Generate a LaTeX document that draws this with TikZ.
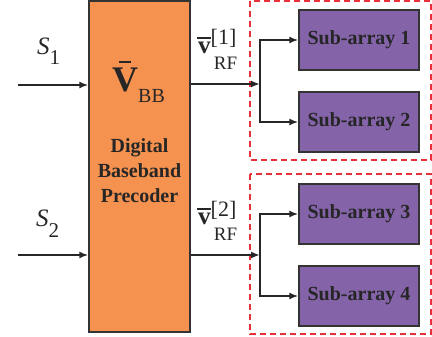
\documentclass[tikz,border=0pt]{standalone}
\usepackage{amsmath}
\usepackage{fontspec}
\setmainfont{Liberation Serif}
\usetikzlibrary{calc,arrows.meta,positioning}
\definecolor{precolor}{HTML}{F6924F}
\definecolor{subcolor}{HTML}{8463A9}
\definecolor{dashred}{HTML}{E8303A}
\definecolor{edgegray}{HTML}{333333}
% bar over a symbol: width, raise, symbol
\newcommand{\topbar}[3]{\ooalign{#3\cr\hidewidth\raisebox{#2}{\rule{#1}{1.8pt}}\hidewidth\cr}}
\newcommand{\fs}[1]{\fontsize{#1}{#1}\selectfont}

\begin{document}
\begin{tikzpicture}[x=1pt,y=-1pt,
    sig/.style = {-{Latex[length=9pt,width=7pt]},line width=2.1pt,black!85},
    subbox/.style = {draw=edgegray,line width=1.3pt,fill=subcolor,minimum width=120pt,minimum height=60pt,font=\fs{20}\bfseries,text=black!85},
    groupbox/.style = {draw=dashred,line width=1.3pt,dash pattern=on 6pt off 4pt},
    lbl/.style = {anchor=base west,inner sep=0pt,text=black!85}]
    \useasboundingbox(0,0)rectangle(432,337);
    \node[draw=edgegray,line width=1.3pt,fill=precolor,minimum width=101pt,minimum height=331pt](pre)at(139.5,166.5){};
    \node[lbl](vbb)at(112,92){\fs{36}\topbar{12pt}{29pt}{\textbf{V}}\raisebox{-11pt}{\fs{20}BB}};
    \node[align=center,font=\fontsize{20}{25}\selectfont\bfseries,text=black!85](txt)at(139.5,171){Digital\\Baseband\\Precoder};
    % sub-arrays
    \node[subbox](sub1)at(359,40){Sub-array 1};
    \node[subbox](sub2)at(359,122){Sub-array 2};
    \node[subbox](sub3)at(359,214){Sub-array 3};
    \node[subbox](sub4)at(359,296){Sub-array 4};
    \draw[groupbox](250,1)rectangle(431,160);
    \draw[groupbox](250,174)rectangle(431,334);
    % inputs
    \coordinate(in1)at(18,85);
    \coordinate(in2)at(18,255);
    \draw[sig](in1)to(pre.west |- in1);
    \draw[sig](in2)to(pre.west |- in2);
    \node[lbl](s1)at(37,55){\fs{25}\textit{S}\raisebox{-10pt}{\fs{21}1}};
    \node[lbl](s2)at(36,227){\fs{25}\textit{S}\raisebox{-10pt}{\fs{21}2}};
    % outputs
    \coordinate(br1)at(260,84);
    \coordinate(br2)at(260,255);
    \draw[sig](pre.east |- br1)to(br1);
    \draw[sig](pre.east |- br2)to(br2);
    \draw[sig](br1)|-(sub1.west);
    \draw[sig](br1)|-(sub2.west);
    \draw[sig](br2)|-(sub3.west);
    \draw[sig](br2)|-(sub4.west);
    \node[lbl](v1)at(198,54){\fs{25}\topbar{14pt}{15pt}{\textbf{v}}\raisebox{9pt}{\rlap{\fs{22}[1]}}\raisebox{-16pt}{\fs{19}\,RF}};
    \node[lbl](v2)at(198,225){\fs{25}\topbar{14pt}{15pt}{\textbf{v}}\raisebox{9pt}{\rlap{\fs{22}[2]}}\raisebox{-16pt}{\fs{19}\,RF}};
\end{tikzpicture}
\end{document}
